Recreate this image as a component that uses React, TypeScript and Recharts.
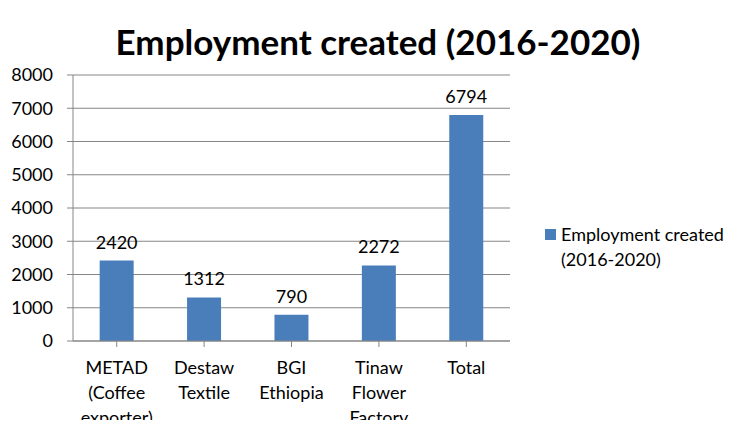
import React from 'react';
import { Bar, BarChart, CartesianGrid, LabelList, XAxis, YAxis } from 'recharts';

const categories = ['METAD (Coffee exporter)', 'Destaw Textile', 'BGI Ethiopia', 'Tinaw Flower Factory', 'Total'];
const categoryLines = [['METAD', '(Coffee', 'exporter)'], ['Destaw', 'Textile'], ['BGI', 'Ethiopia'], ['Tinaw', 'Flower', 'Factory'], ['Total']];
const employment = [2420, 1312, 790, 2272, 6794];
const yTicks = [0, 1000, 2000, 3000, 4000, 5000, 6000, 7000, 8000];

const SERIES = 'Employment created (2016-2020)';
const FONT = 'Lato, "Open Sans", sans-serif';
const BLUE = '#4a7ebb';
const GREY = '#868686';

const data = categories.map((name, i) => ({ name, value: employment[i] }));

const CategoryTick = (props: any) => {
    const { x, y, index } = props;
    const lines = categoryLines[index] || [];
    return (
        <text x={x} y={y} textAnchor="middle" fill="#000" fontSize={18} fontFamily={FONT}>
            {lines.map((line, i) => (
                <tspan key={i} x={x} dy={i === 0 ? 25 : 25}>{line}</tspan>
            ))}
        </text>
    );
};

export default function App() {
    return (
        <div style={{ position: 'relative', width: 743, height: 428, margin: -8, background: '#fff', overflow: 'hidden' }}>
            <div style={{ position: 'absolute', left: 0, width: 756, top: 20, textAlign: 'center', fontFamily: FONT, fontWeight: 'bold', fontSize: 35, color: '#000' }}>
                {SERIES}
            </div>
            <div style={{ position: 'absolute', left: 545, top: 222, display: 'flex', alignItems: 'flex-start', fontFamily: FONT, fontSize: 18, lineHeight: '25px', color: '#000' }}>
                <span style={{ width: 11, height: 11, background: BLUE, marginTop: 7, marginRight: 5, flexShrink: 0 }} />
                <span>Employment created<br />(2016-2020)</span>
            </div>
            <BarChart width={743} height={428} data={data} margin={{ top: 75, right: 233, bottom: 0, left: 0 }} barCategoryGap="30.5%">
                <CartesianGrid vertical={false} stroke={GREY} />
                <XAxis dataKey="name" height={87} interval={0} stroke={GREY} tickSize={6} tick={<CategoryTick />} tickLine={{ stroke: GREY }} />
                <YAxis width={73} domain={[0, 8000]} ticks={yTicks} interval={0} stroke={GREY} tickSize={6} tickMargin={14}
                    tick={{ fill: '#000', fontSize: 18, fontFamily: FONT }} />
                <Bar dataKey="value" name={SERIES} fill={BLUE} isAnimationActive={false}>
                    <LabelList dataKey="value" position="top" offset={12} fill="#000" fontSize={18} fontFamily={FONT} />
                </Bar>
            </BarChart>
        </div>
    );
}
